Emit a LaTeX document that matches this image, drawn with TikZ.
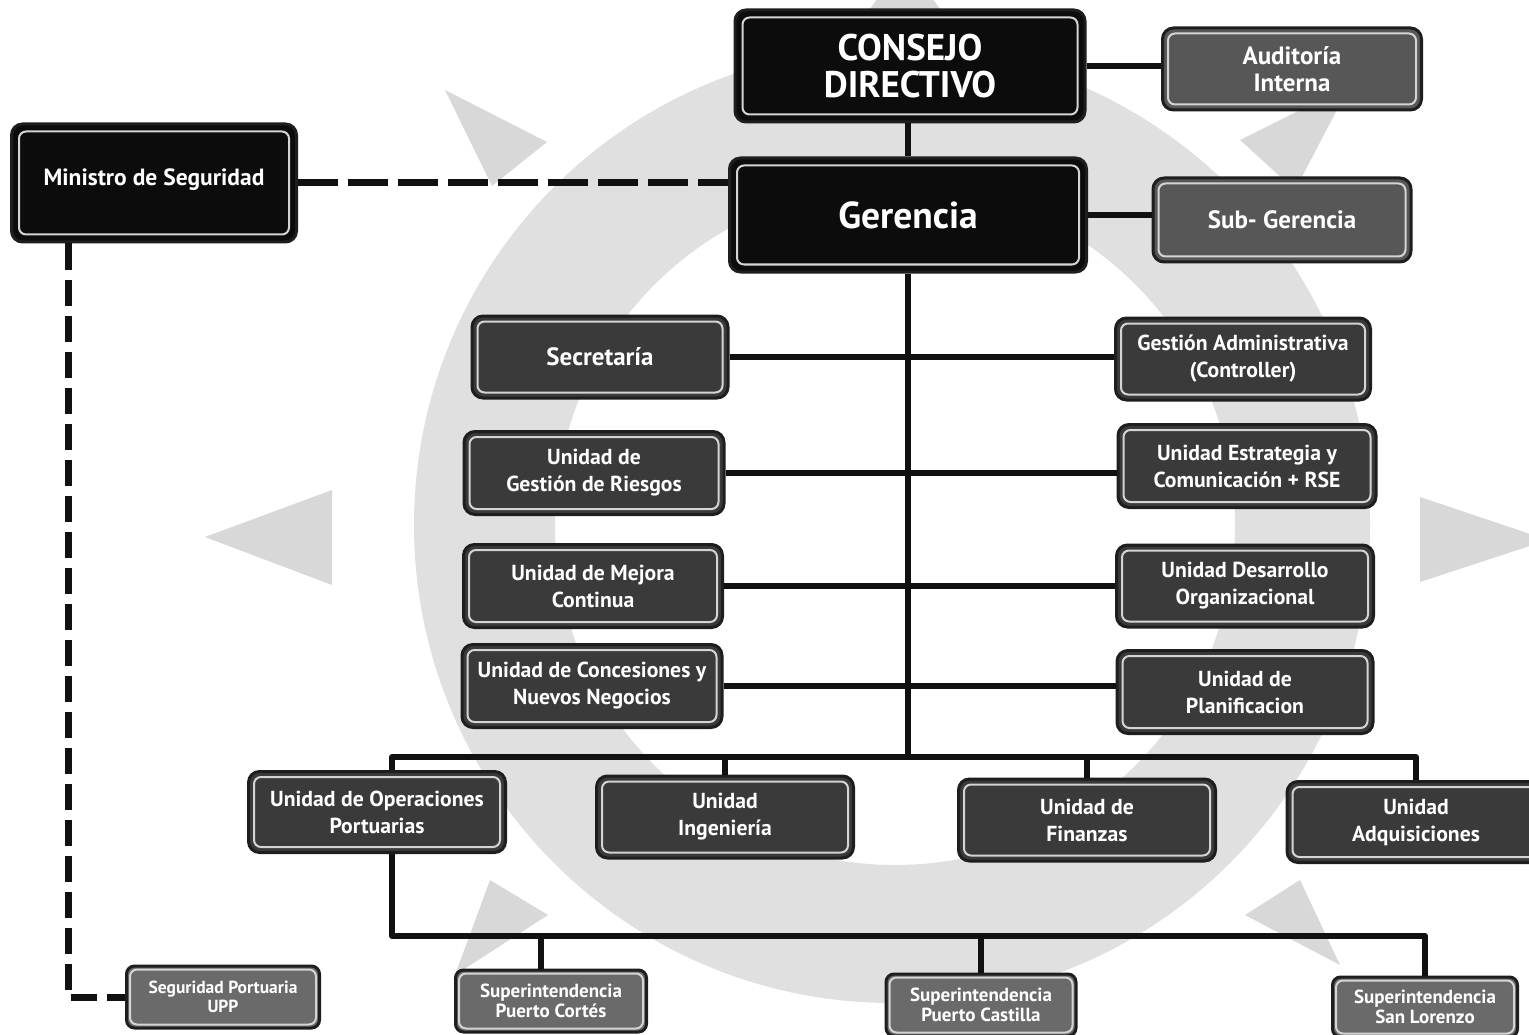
\documentclass[tikz,border=0pt]{standalone}
\usepackage{fontspec}
\setmainfont{PT Sans}
\definecolor{linec}{HTML}{111111}
\definecolor{boxedge}{HTML}{1E1E1E}
\definecolor{cblack}{HTML}{0C0C0C}
\definecolor{cdark}{HTML}{3A3A3A}
\definecolor{cmid}{HTML}{575757}
\definecolor{csmall}{HTML}{6A6A6A}
\definecolor{framec}{HTML}{D4D4D4}
\definecolor{ringc}{HTML}{E0E0E0}
\definecolor{rayc}{HTML}{D8D8D8}
\newcommand\fs[2]{\fontsize{#1}{#2}\selectfont}
\tikzset{
  conn/.style={draw=linec, line width=6pt},
  hdash/.style={draw=linec, line width=7pt, dash pattern=on 40pt off 10pt},
  vdash/.style={draw=linec, line width=7pt, dash pattern=on 26pt off 10pt},
  orgbox/.style={draw=boxedge, line width=3pt, rounded corners=11pt, text=white, align=center, inner sep=0pt},
  blackbox/.style={orgbox, fill=cblack},
  darkbox/.style={orgbox, fill=cdark},
  midbox/.style={orgbox, fill=cmid},
  smallbox/.style={orgbox, fill=csmall, rounded corners=8pt},
  frameline/.style={draw=framec, line width=2pt, rounded corners=7pt},
  ring/.style={fill=ringc, even odd rule},
  ray/.style={fill=rayc},
  fhuge/.style={font=\bfseries\fs{37}{37}},
  fbig/.style={font=\bfseries\fs{37.5}{40}},
  flarge/.style={font=\bfseries\fs{25}{27}},
  fmin/.style={font=\bfseries\fs{23.5}{27}},
  fsec/.style={font=\bfseries\fs{25}{27}},
  fmed/.style={font=\bfseries\fs{21.7}{27}},
  fsmall/.style={font=\bfseries\fs{19}{20}},
  ftiny/.style={font=\bfseries\fs{17.5}{19}},
}
\newcommand\obox[8]{%
  \node[#2, minimum width=#5pt, minimum height=#6pt] (#1) at (#3,#4) {#8};
  \draw[frameline] ([shift={(#7pt,-#7pt)}]#1.north west) rectangle ([shift={(-#7pt,#7pt)}]#1.south east);
}
\begin{document}
\begin{tikzpicture}[x=1pt,y=-1pt,line join=round]
\useasboundingbox (0,0) rectangle (1529,1035);
\fill[white] (0,0) rectangle (1529,1035);
% background emblem
\fill[ring] (892,525) circle[radius=478pt] (895,525) circle[radius=340pt];
\fill[ray] (445,90) -- (547,142) -- (492,186) -- cycle;
\fill[ray] (205,537) -- (332,490) -- (332,585) -- cycle;
\fill[ray] (1548,540) -- (1420,497) -- (1420,582) -- cycle;
\fill[ray] (1350,85) -- (1240,140) -- (1295,190) -- cycle;
\fill[ray] (455,975) -- (490,880) -- (548,915) -- cycle;
\fill[ray] (1340,965) -- (1300,880) -- (1245,915) -- cycle;
\fill[ray] (905,-40) -- (855,30) -- (955,30) -- cycle;
% boxes
\obox{con}{blackbox,fhuge}{910}{66}{350}{112}{9}{CONSEJO\\DIRECTIVO}
\obox{aud}{midbox,flarge}{1292}{69}{259}{82}{7}{Auditoría\\Interna}
\obox{ger}{blackbox,fbig}{908}{215}{357}{114}{9}{Gerencia}
\obox{sub}{midbox,flarge}{1282}{220}{258}{84}{7}{Sub- Gerencia}
\obox{min}{blackbox,fmin}{154}{183}{285}{118}{9}{\raisebox{12pt}{Ministro de Seguridad}}
\obox{sec}{darkbox,fsec}{600}{357}{256}{82}{7}{Secretaría}
\obox{rie}{darkbox,fmed}{594}{473}{260}{83}{7}{Unidad de\\Gestión de Riesgos}
\obox{mej}{darkbox,fmed}{593}{586}{259}{83}{7}{Unidad de Mejora\\Continua}
\obox{neg}{darkbox,fmed}{592}{686}{260}{83}{7}{Unidad de Concesiones y\\Nuevos Negocios}
\obox{gad}{darkbox,fmed}{1243}{359}{255}{82}{7}{Gestión Administrativa\\(Controller)}
\obox{est}{darkbox,fmed}{1247}{466}{258}{83}{7}{Unidad Estrategia y\\Comunicación + RSE}
\obox{des}{darkbox,fmed}{1245}{586}{257}{82}{7}{Unidad Desarrollo\\Organizacional}
\obox{pla}{darkbox,fmed}{1245}{692}{256}{83}{7}{Unidad de\\Planificacion}
\obox{ops}{darkbox,fmed}{377}{812}{257}{81}{7}{Unidad de Operaciones\\Portuarias}
\obox{ing}{darkbox,fmed}{725}{817}{257}{82}{7}{Unidad\\Ingeniería}
\obox{fin}{darkbox,fmed}{1087}{820}{257}{82}{7}{Unidad de\\Finanzas}
\obox{adq}{darkbox,fmed}{1416}{822}{258}{81}{7}{Unidad\\Adquisiciones}
\obox{upp}{smallbox,ftiny}{223}{997}{193}{62}{5}{Seguridad Portuaria\\UPP}
\obox{cor}{smallbox,fsmall}{551}{1001}{191}{62}{5}{Superintendencia\\Puerto Cortés}
\obox{cas}{smallbox,fsmall}{981}{1005}{190}{62}{5}{Superintendencia\\Puerto Castilla}
\obox{slo}{smallbox,fsmall}{1425}{1007}{185}{60}{5}{Superintendencia\\San Lorenzo}
% connectors
\coordinate (bus1) at (905,757);
\coordinate (bus2) at (392,936);
\draw[conn] (ger.north |- con.south) -- (ger.north);
\draw[conn] (con.east) -- (con.east -| aud.west);
\draw[conn] (ger.east) -- (ger.east -| sub.west);
\draw[hdash] (min.east) -- (min.east -| ger.west);
\draw[conn] (ger.south) -- (ger.south |- bus1);
\draw[conn] (sec.east) -- (sec.east -| gad.west);
\draw[conn] (rie.east) -- (rie.east -| est.west);
\draw[conn] (mej.east) -- (mej.east -| des.west);
\draw[conn] (neg.east) -- (neg.east -| pla.west);
\draw[conn] ([xshift=15pt]ops.north) -- ([xshift=15pt]ops.north |- bus1) -- (adq.north |- bus1) -- (adq.north);
\draw[conn] (ing.north) -- (ing.north |- bus1);
\draw[conn] (fin.north) -- (fin.north |- bus1);
\draw[conn] ([xshift=15pt]ops.south) -- ([xshift=15pt]ops.south |- bus2) -- (slo.north |- bus2) -- (slo.north);
\draw[conn] ([xshift=-10pt]cor.north) -- ([xshift=-10pt]cor.north |- bus2);
\draw[conn] (cas.north) -- (cas.north |- bus2);
\draw[vdash] ([xshift=58pt]min.south west) -- ([xshift=58pt]min.south west |- upp.west) -- (upp.west);
\end{tikzpicture}
\end{document}
